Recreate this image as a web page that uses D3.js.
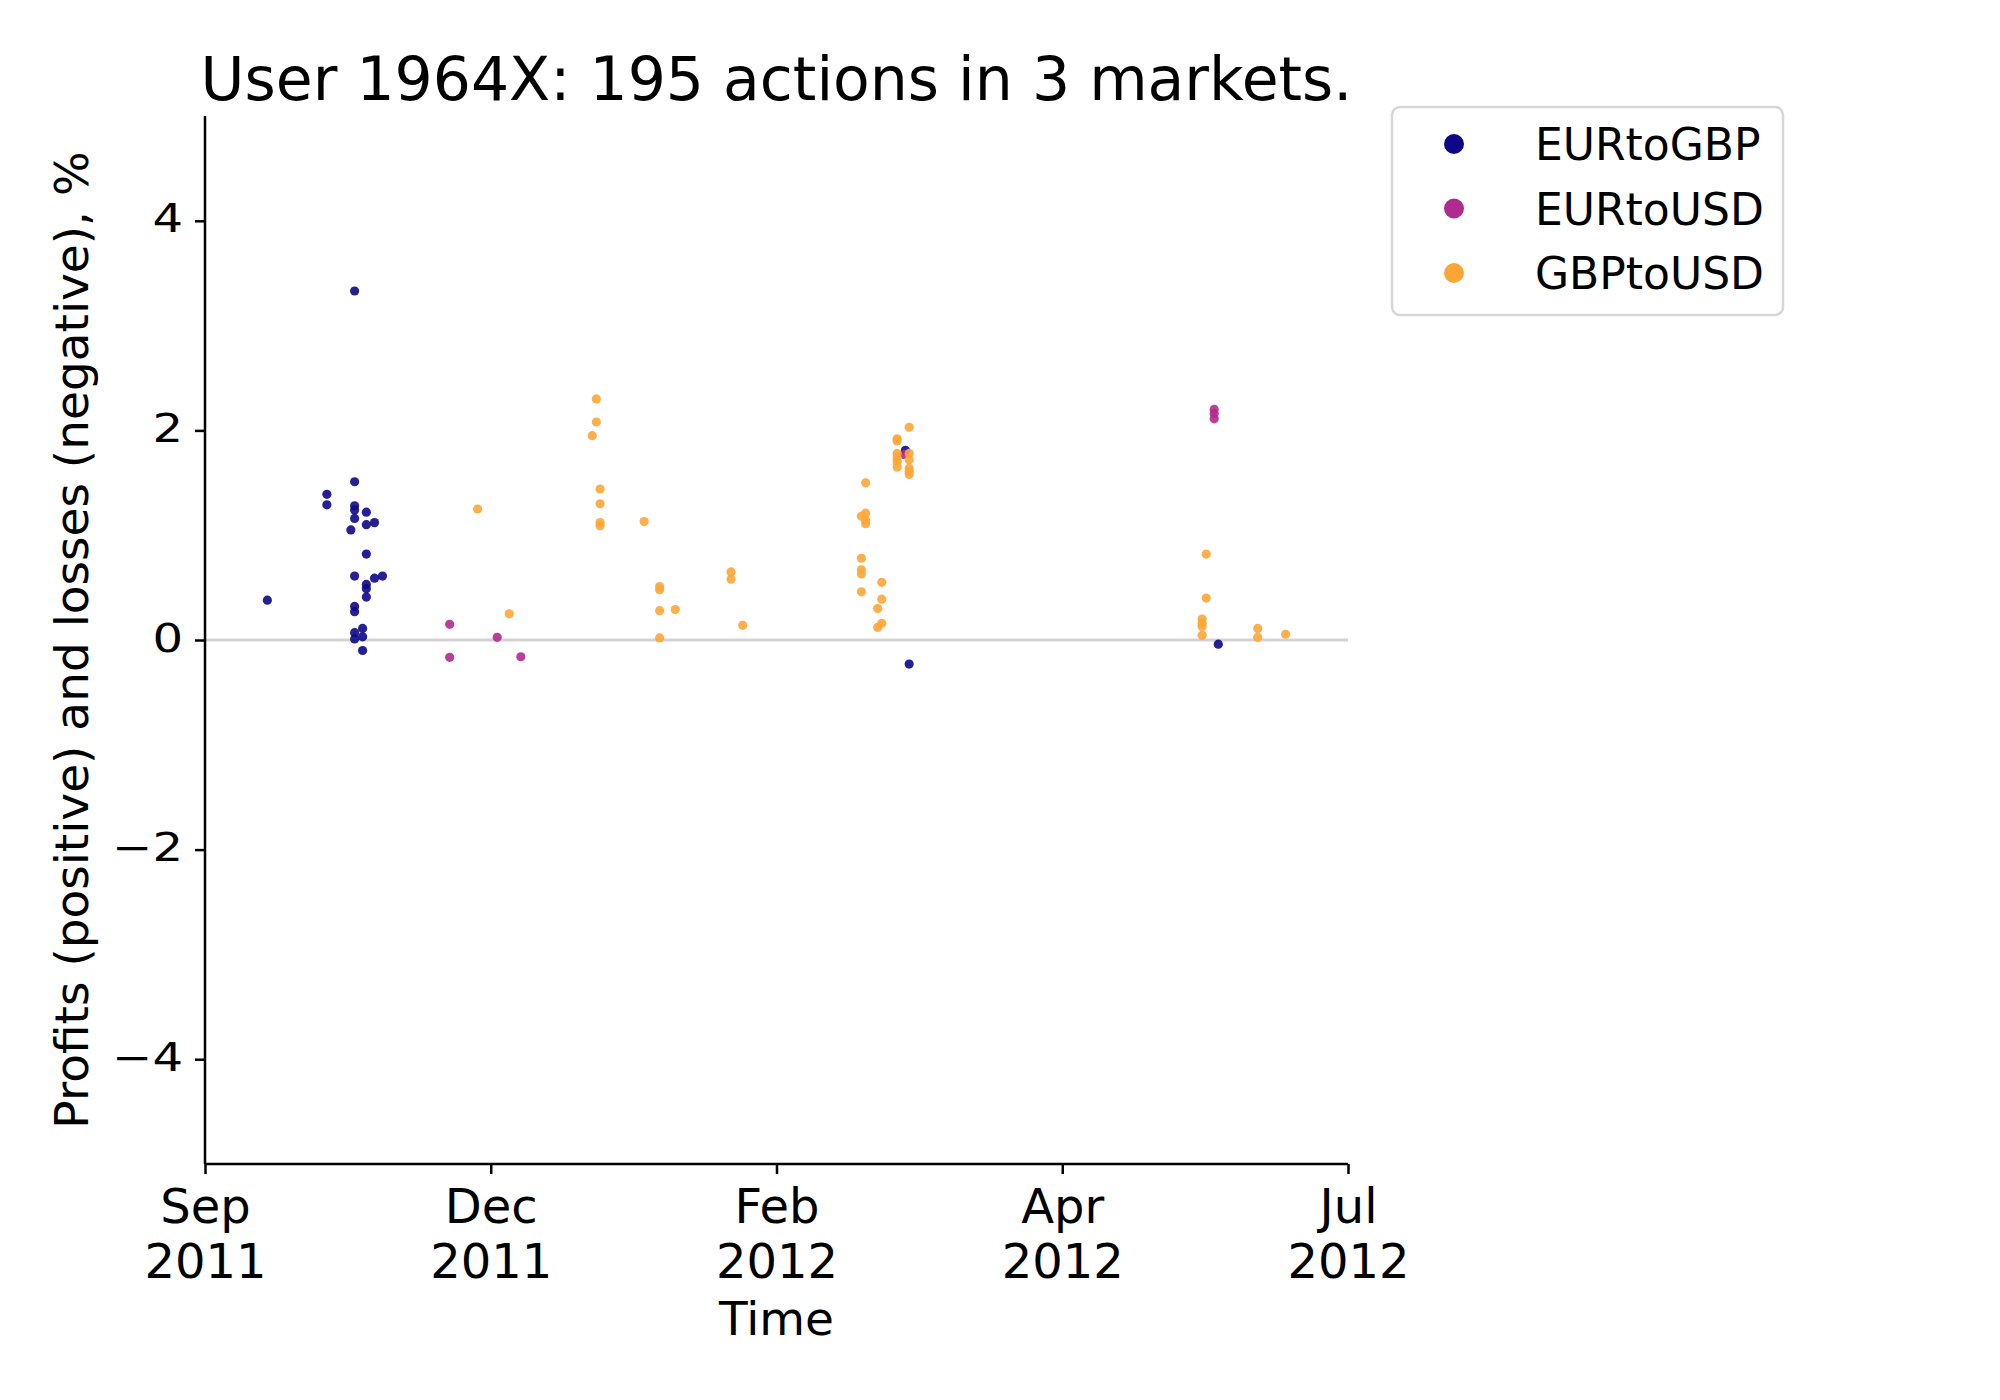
<!DOCTYPE html>
<html>
<head>
<meta charset="utf-8">
<script src="https://cdn.jsdelivr.net/npm/d3@7"></script>
<style>
  html, body { margin: 0; padding: 0; background: #fff; }
  svg { display: block; }
  text { font-family: "DejaVu Sans", sans-serif; fill: #000; }
</style>
</head>
<body>
<script>
// ---------------- DATA ----------------
const title = "User 1964X: 195 actions in 3 markets.";
const xLabel = "Time";
const yLabel = "Profits (positive) and losses (negative), %";
const seriesNames = ["EURtoGBP", "EURtoUSD", "GBPtoUSD"];
const seriesColors = ["#0d0887", "#b12a90", "#fca636"];

// x tick positions (dates) and their labels
const xTickDates = ["2011-09-01T00", "2011-11-16T00", "2012-01-31T00", "2012-04-16T00", "2012-07-01T00"];
const xTickLabels = [["Sep", "2011"], ["Dec", "2011"], ["Feb", "2012"], ["Apr", "2012"], ["Jul", "2012"]];
const yTicks = [-4, -2, 0, 2, 4];
const xDomain = ["2011-09-01T00", "2012-07-01T00"];
const yDomain = [-5, 5];

// EURtoGBP: [date, profit %]
const eurToGbp = [
  ["2011-09-17T14", 0.38],
  ["2011-10-03T10", 1.39], ["2011-10-03T10", 1.29],
  ["2011-10-09T19", 1.05],
  ["2011-10-10T19", 3.33], ["2011-10-10T19", 1.51], ["2011-10-10T19", 1.28], ["2011-10-10T19", 1.24],
  ["2011-10-10T19", 1.16], ["2011-10-10T19", 0.61], ["2011-10-10T19", 0.32], ["2011-10-10T19", 0.27],
  ["2011-10-10T19", 0.07], ["2011-10-10T19", 0.01],
  ["2011-10-12T22", 0.11], ["2011-10-12T22", 0.03], ["2011-10-12T22", -0.10],
  ["2011-10-13T22", 1.22], ["2011-10-13T22", 1.10], ["2011-10-13T22", 0.82], ["2011-10-13T22", 0.53],
  ["2011-10-13T22", 0.49], ["2011-10-13T22", 0.41],
  ["2011-10-16T02", 1.12], ["2011-10-16T02", 0.59],
  ["2011-10-18T05", 0.61],
  ["2012-03-05T07", 1.81],
  ["2012-03-06T07", -0.23],
  ["2012-05-27T12", -0.04]
];

// EURtoUSD
const eurToUsd = [
  ["2011-11-05T02", 0.15], ["2011-11-05T02", -0.165],
  ["2011-11-17T17", 0.026],
  ["2011-11-24T00", -0.16],
  ["2012-03-04T22", 1.77],
  ["2012-05-26T10", 2.20], ["2012-05-26T10", 2.16], ["2012-05-26T10", 2.11]
];

// GBPtoUSD
const gbpToUsd = [
  ["2011-11-12T12", 1.25],
  ["2011-11-20T22", 0.25],
  ["2011-12-13T00", 1.95],
  ["2011-12-14T02", 2.30], ["2011-12-14T02", 2.08],
  ["2011-12-15T02", 1.44], ["2011-12-15T02", 1.30], ["2011-12-15T02", 1.12], ["2011-12-15T02", 1.09],
  ["2011-12-26T19", 1.13],
  ["2011-12-30T22", 0.51], ["2011-12-30T22", 0.48], ["2011-12-30T22", 0.28], ["2011-12-30T22", 0.02],
  ["2012-01-04T02", 0.29],
  ["2012-01-18T22", 0.65], ["2012-01-18T22", 0.58],
  ["2012-01-22T00", 0.14],
  ["2012-02-22T14", 1.18], ["2012-02-22T14", 0.78], ["2012-02-22T14", 0.67], ["2012-02-22T14", 0.63], ["2012-02-22T14", 0.46],
  ["2012-02-23T17", 1.50], ["2012-02-23T17", 1.21], ["2012-02-23T17", 1.14], ["2012-02-23T17", 1.11],
  ["2012-02-26T22", 0.30], ["2012-02-26T22", 0.12],
  ["2012-02-28T00", 0.55], ["2012-02-28T00", 0.39], ["2012-02-28T00", 0.16],
  ["2012-03-03T02", 1.92], ["2012-03-03T02", 1.90], ["2012-03-03T02", 1.78], ["2012-03-03T02", 1.74],
  ["2012-03-03T02", 1.70], ["2012-03-03T02", 1.65],
  ["2012-03-06T07", 2.03], ["2012-03-06T07", 1.78], ["2012-03-06T07", 1.72], ["2012-03-06T07", 1.64],
  ["2012-03-06T07", 1.61], ["2012-03-06T07", 1.58],
  ["2012-05-23T05", 0.20], ["2012-05-23T05", 0.16], ["2012-05-23T05", 0.13], ["2012-05-23T05", 0.045],
  ["2012-05-24T07", 0.82], ["2012-05-24T07", 0.40],
  ["2012-06-07T00", 0.11], ["2012-06-07T00", 0.026],
  ["2012-06-14T10", 0.055]
];

const seriesData = [eurToGbp, eurToUsd, gbpToUsd];

// ---------------- CHART ----------------
const W = 2000, H = 1400;
const plot = { left: 205, right: 1348, top: 116, bottom: 1164 };
const parse = d3.utcParse("%Y-%m-%dT%H");

const svg = d3.select("body").append("svg").attr("width", W).attr("height", H);

const x = d3.scaleUtc().domain(xDomain.map(parse)).range([plot.left, plot.right]);
const y = d3.scaleLinear().domain(yDomain).range([plot.bottom, plot.top]);

// zero line
svg.append("line")
  .attr("x1", plot.left).attr("x2", plot.right)
  .attr("y1", y(0)).attr("y2", y(0))
  .attr("stroke", "#d3d3d3").attr("stroke-width", 3);

// points
seriesData.forEach((data, i) => {
  svg.append("g").selectAll("circle")
    .data(data).join("circle")
    .attr("cx", d => x(parse(d[0])))
    .attr("cy", d => y(d[1]))
    .attr("r", 4.6)
    .attr("fill", seriesColors[i])
    .attr("fill-opacity", 0.9);
});

// y axis
const yAxis = svg.append("g")
  .attr("transform", `translate(${plot.left},0)`)
  .call(d3.axisLeft(y).tickValues(yTicks).tickSize(10).tickPadding(12).tickFormat(d3.format("d")));
yAxis.select(".domain").attr("stroke", "#000").attr("stroke-width", 2.5)
  .attr("d", `M0,${plot.top}V${plot.bottom}`);
yAxis.selectAll(".tick line").attr("stroke", "#000").attr("stroke-width", 2.5);
yAxis.selectAll(".tick text")
  .attr("font-family", "DejaVu Sans").attr("font-size", 38.5).attr("fill", "#000")
  .attr("dy", null).attr("x", null).attr("y", null)
  .attr("text-anchor", "end")
  .attr("transform", "translate(-22,11) scale(1.25,1)");

// x axis
const xAxis = svg.append("g")
  .attr("transform", `translate(0,${plot.bottom})`)
  .call(d3.axisBottom(x).tickValues(xTickDates.map(parse)).tickSize(10).tickFormat(""));
xAxis.select(".domain").attr("stroke", "#000").attr("stroke-width", 2.5)
  .attr("d", `M${plot.left},0H${plot.right}`);
xAxis.selectAll(".tick line").attr("stroke", "#000").attr("stroke-width", 2.5);
xAxis.selectAll(".tick text").remove();
xAxis.selectAll(".tick").each(function(d, i) {
  const t = d3.select(this).append("text")
    .attr("text-anchor", "middle")
    .attr("font-family", "DejaVu Sans").attr("font-size", 48).attr("fill", "#000");
  t.append("tspan").attr("x", 0).attr("y", 59).text(xTickLabels[i][0]);
  t.append("tspan").attr("x", 0).attr("y", 114).text(xTickLabels[i][1]);
});

// axis labels
svg.append("text")
  .attr("x", (plot.left + plot.right) / 2).attr("y", 1335)
  .attr("text-anchor", "middle").attr("font-size", 47)
  .text(xLabel);

svg.append("text")
  .attr("transform", `translate(88,${(plot.top + plot.bottom) / 2}) rotate(-90)`)
  .attr("text-anchor", "middle").attr("font-size", 47)
  .text(yLabel);

// title
svg.append("text")
  .attr("x", (plot.left + plot.right) / 2).attr("y", 100)
  .attr("text-anchor", "middle").attr("font-size", 60)
  .text(title);

// legend
const lg = svg.append("g");
lg.append("rect")
  .attr("x", 1392).attr("y", 107).attr("width", 391).attr("height", 208)
  .attr("rx", 8).attr("ry", 8)
  .attr("fill", "#fff").attr("stroke", "#d6d6d6").attr("stroke-width", 2.5);
const legendRowY = d3.scalePoint().domain(seriesNames).range([144, 273]);
seriesNames.forEach((name, i) => {
  lg.append("circle")
    .attr("cx", 1454).attr("cy", legendRowY(name)).attr("r", 10)
    .attr("fill", seriesColors[i]);
  lg.append("text")
    .attr("x", 1535).attr("y", legendRowY(name) + 16)
    .attr("font-size", 44)
    .text(name);
});
</script>
</body>
</html>
